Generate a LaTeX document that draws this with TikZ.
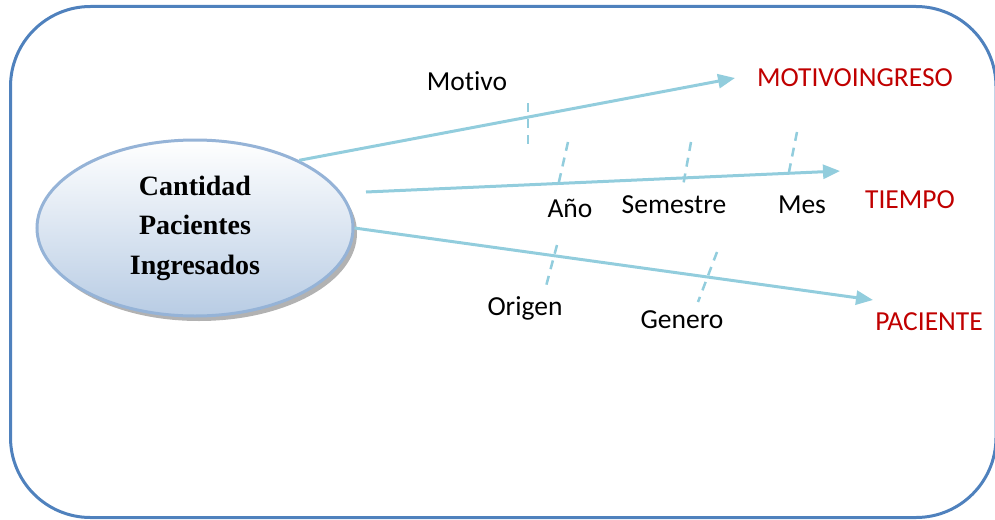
\documentclass[tikz,border=0pt]{standalone}
\usepackage{fontspec}
\setmainfont{Carlito}[Ligatures=NoCommon]
\newfontfamily\timesb{Liberation Serif}
\usetikzlibrary{arrows.meta,shapes.geometric,shadows}

\definecolor{marco}{RGB}{79,129,189}
\definecolor{flecha}{RGB}{146,205,221}
\definecolor{rojo}{RGB}{192,0,0}
\definecolor{elborde}{RGB}{149,179,215}
\definecolor{elfondo}{RGB}{184,204,228}

\tikzset{
  dim/.style={anchor=base, text=rojo, font=\fontsize{27.5}{32}\selectfont},
  atr/.style={anchor=base, text=black, font=\fontsize{27.5}{32}\selectfont},
  eje/.style={draw=flecha, line width=3pt, -{Triangle[length=17pt,width=14pt]}},
  corte/.style={draw=flecha, line width=2.5pt, dash pattern=on 9pt off 7pt},
}

\begin{document}
\begin{tikzpicture}[x=1pt,y=-1pt]
\useasboundingbox (0,0) rectangle (995,519);
\draw[marco, line width=3pt, rounded corners=80pt] (10.5,6.5) rectangle (996,517.5);

% hecho
\node (cant) [ellipse, minimum width=316pt, minimum height=176pt, draw=elborde, line width=3pt,
  top color=white, bottom color=elfondo,
  drop shadow={shadow xshift=4pt, shadow yshift=-5pt, fill=black, opacity=.3},
  align=center, font=\timesb\bfseries\fontsize{28}{39.5}\selectfont] at (195,228)
  {Cantidad\\Pacientes\\Ingresados};

% dimensiones
\node (motivoingreso) [dim] at (855,86) {MOTIVOINGRESO};
\node (tiempo) [dim] at (910,208) {TIEMPO};
\node (paciente) [dim] at (929,330) {PACIENTE};

% atributos
\node (motivo) [atr] at (467,90) {Motivo};
\node (anio) [atr] at (570,217) {Año};
\node (semestre) [atr] at (674,213) {Semestre};
\node (mes) [atr] at (802,213) {Mes};
\node (origen) [atr] at (525,315) {Origen};
\node (genero) [atr] at (682,328) {Genero};

\coordinate (t0) at (366,192);
\coordinate (m1) at (735,78);
\coordinate (t1) at (840,171);
\coordinate (p1) at (873,300);

\draw[eje] (cant.33) -- (m1);
\draw[eje] (t0) -- (t1);
\draw[eje] (cant.east) -- (p1);

\draw[corte] (528,103) -- (528,150);
\draw[corte] (568,142) -- (558,186);
\draw[corte] (691,142) -- (683,186);
\draw[corte] (797,132) -- (788,177);
\draw[corte] (557,245) -- (545,290);
\draw[corte] (717,252) -- (698,302);
\end{tikzpicture}
\end{document}
